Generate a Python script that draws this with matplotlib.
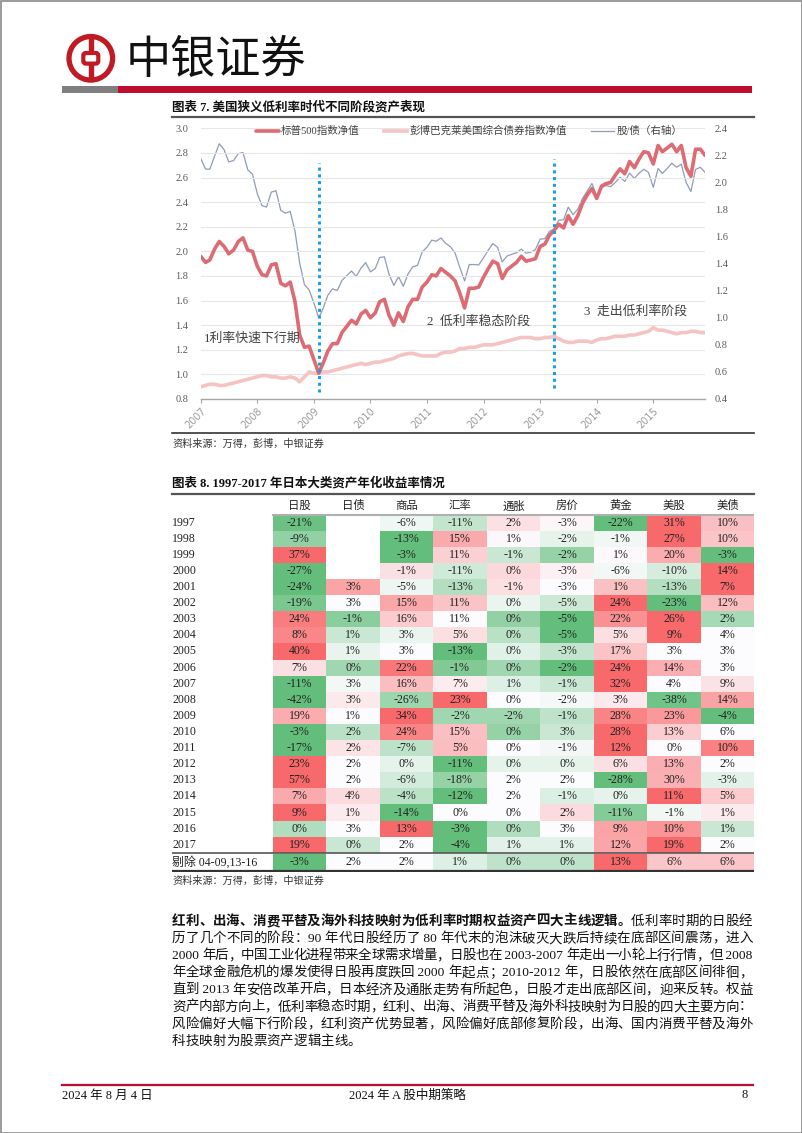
import re
import numpy as np
import pandas as pd
import matplotlib
matplotlib.use('Agg')
import matplotlib.pyplot as plt
import matplotlib.dates as mdates
from matplotlib.patches import Rectangle, Circle, FancyBboxPatch
from matplotlib.colors import LinearSegmentedColormap

MIX = ['Liberation Serif', 'Noto Sans CJK SC']
plt.rcParams['font.family'] = MIX
plt.rcParams['axes.unicode_minus'] = False

# ---------------- chart data (monthly, 2007-01 .. 2015-12) ----------------
months = pd.date_range('2007-01-01', periods=108, freq='MS')
spx_nav = [
    1.96, 1.91, 1.93, 2.02, 2.08, 2.04, 1.98, 2.01, 2.08, 2.11, 2.01, 2.00,
    1.88, 1.81, 1.80, 1.89, 1.90, 1.74, 1.72, 1.75, 1.59, 1.32, 1.22, 1.23,
    1.12, 1.01, 1.09, 1.19, 1.25, 1.25, 1.34, 1.39, 1.44, 1.41, 1.49, 1.52,
    1.46, 1.50, 1.59, 1.61, 1.48, 1.40, 1.50, 1.43, 1.55, 1.61, 1.61, 1.71,
    1.75, 1.81, 1.80, 1.86, 1.83, 1.80, 1.76, 1.66, 1.54, 1.70, 1.70, 1.71,
    1.79, 1.86, 1.92, 1.90, 1.78, 1.85, 1.88, 1.91, 1.96, 1.92, 1.93, 1.94,
    2.04, 2.06, 2.13, 2.17, 2.22, 2.19, 2.29, 2.22, 2.29, 2.39, 2.46, 2.51,
    2.43, 2.53, 2.55, 2.56, 2.62, 2.67, 2.63, 2.73, 2.68, 2.75, 2.81, 2.80,
    2.71, 2.86, 2.81, 2.84, 2.87, 2.81, 2.86, 2.68, 2.61, 2.83, 2.83, 2.78,
]
agg_nav = [
    0.90, 0.91, 0.92, 0.92, 0.91, 0.91, 0.92, 0.93, 0.94, 0.95, 0.96, 0.97,
    0.98, 0.99, 0.99, 0.98, 0.98, 0.97, 0.97, 0.98, 0.97, 0.94, 0.98, 1.02,
    1.01, 1.01, 1.02, 1.02, 1.03, 1.04, 1.05, 1.06, 1.07, 1.08, 1.09, 1.08,
    1.09, 1.10, 1.10, 1.11, 1.12, 1.13, 1.15, 1.16, 1.17, 1.17, 1.16, 1.15,
    1.15, 1.15, 1.15, 1.17, 1.18, 1.18, 1.19, 1.21, 1.21, 1.22, 1.22, 1.23,
    1.24, 1.24, 1.24, 1.25, 1.26, 1.27, 1.28, 1.29, 1.30, 1.30, 1.30, 1.29,
    1.29, 1.30, 1.30, 1.31, 1.29, 1.27, 1.26, 1.26, 1.27, 1.27, 1.27, 1.26,
    1.28, 1.29, 1.29, 1.30, 1.31, 1.31, 1.31, 1.32, 1.32, 1.33, 1.34, 1.35,
    1.38, 1.36, 1.36, 1.35, 1.34, 1.33, 1.34, 1.34, 1.35, 1.35, 1.34, 1.34,
]
series_names = ['标普500指数净值', '彭博巴克莱美国综合债券指数净值', '股/债（右轴）']
phase_breaks = ['2009-02-01', '2013-04-01']
phase_labels = ['1利率快速下行期', '2  低利率稳态阶段', '3  走出低利率阶段']

# ---------------- table data (annual returns, %) ----------------
row_names = [str(y) for y in range(1997, 2018)] + ['剔除 04-09,13-16']
assets = ['日股', '日债', '商品', '汇率', '通胀', '房价', '黄金', '美股', '美债']
nan = np.nan
annual_returns = [
    [-21, nan, -6, -11, 2, -3, -22, 31, 10],
    [-9, nan, -13, 15, 1, -2, -1, 27, 10],
    [37, nan, -3, 11, -1, -2, 1, 20, -3],
    [-27, nan, -1, -11, 0, -3, -6, -10, 14],
    [-24, 3, -5, -13, -1, -3, 1, -13, 7],
    [-19, 3, 15, 11, 0, -5, 24, -23, 12],
    [24, -1, 16, 11, 0, -5, 22, 26, 2],
    [8, 1, 3, 5, 0, -5, 5, 9, 4],
    [40, 1, 3, -13, 0, -3, 17, 3, 3],
    [7, 0, 22, -1, 0, -2, 24, 14, 3],
    [-11, 3, 16, 7, 1, -1, 32, 4, 9],
    [-42, 3, -26, 23, 0, -2, 3, -38, 14],
    [19, 1, 34, -2, -2, -1, 28, 23, -4],
    [-3, 2, 24, 15, 0, 3, 28, 13, 6],
    [-17, 2, -7, 5, 0, -1, 12, 0, 10],
    [23, 2, 0, -11, 0, 0, 6, 13, 2],
    [57, 2, -6, -18, 2, 2, -28, 30, -3],
    [7, 4, -4, -12, 2, -1, 0, 11, 5],
    [9, 1, -14, 0, 0, 2, -11, -1, 1],
    [0, 3, 13, -3, 0, 3, 9, 10, 1],
    [19, 0, 2, -4, 1, 1, 12, 19, 2],
    [-3, 2, 2, 1, 0, 0, 13, 6, 6],
]

paragraph_bold = '红利、出海、消费平替及海外科技映射为低利率时期权益资产四大主线逻辑。'
paragraph_lines = [
    '低利率时期的日股经',
    '历了几个不同的阶段：90 年代日股经历了 80 年代末的泡沫破灭大跌后持续在底部区间震荡，进入',
    '2000 年后，中国工业化进程带来全球需求增量，日股也在 2003-2007 年走出一小轮上行行情，但 2008',
    '年全球金融危机的爆发使得日股再度跌回 2000 年起点；2010-2012 年，日股依然在底部区间徘徊，',
    '直到 2013 年安倍改革开启，日本经济及通胀走势有所起色，日股才走出底部区间，迎来反转。权益',
    '资产内部方向上，低利率稳态时期，红利、出海、消费平替及海外科技映射为日股的四大主要方向：',
    '风险偏好大幅下行阶段，红利资产优势显著，风险偏好底部修复阶段，出海、国内消费平替及海外',
    '科技映射为股票资产逻辑主线。',
]

W, H = 802, 1133
RED = '#BE0D2E'
fig = plt.figure(figsize=(W / 100, H / 100), dpi=100)

# page layer in pixel coordinates
page = fig.add_axes([0, 0, 1, 1])
page.set_xlim(0, W)
page.set_ylim(H, 0)
page.axis('off')
renderer = fig.canvas.get_renderer()


def frac(x0, y0, x1, y1):
    return [x0 / W, 1 - y1 / H, (x1 - x0) / W, (y1 - y0) / H]


# header: logo, company name, bar
logo_red = '#C01A24'
page.add_patch(Circle((90.8, 58.3), 21.8, fill=False, ec=logo_red, lw=3.8))
page.add_patch(FancyBboxPatch((83.3, 53.0), 15, 10.6, boxstyle='round,pad=0,rounding_size=2.5',
                              fill=False, ec=logo_red, lw=3.0))
page.add_patch(Rectangle((88.6, 36.5), 4.4, 16.5, color=logo_red))
page.add_patch(Rectangle((88.6, 63.6), 4.4, 16.5, color=logo_red))
page.text(126, 59.5, '中银证券', fontsize=32.5, family='Noto Sans CJK SC', va='center', ha='left',
          color='#111111')
page.add_patch(Rectangle((61.5, 86), 56.5, 6.5, color='#7f7f7f', lw=0))
page.add_patch(Rectangle((118, 86), 634, 6.5, color=RED, lw=0))

# chart title
page.text(172, 107, '图表 7. 美国狭义低利率时代不同阶段资产表现', fontsize=9, fontweight='bold',
          va='center', ha='left', color='#111111')
page.plot([172, 754], [116.7, 116.7], color='#555555', lw=1.6)
page.plot([172, 754], [433.3, 433.3], color='#333333', lw=1.2)
page.text(172, 444, '资料来源：万得，彭博，中银证券', fontsize=7.3, va='center', ha='left', color='#333333')

# ---------------- line chart ----------------
ratio = np.array(spx_nav) / np.array(agg_nav)
ax = fig.add_axes(frac(200.7, 128.3, 705, 399))
ax2 = ax.twinx()
ax.set_zorder(ax2.get_zorder() + 1)
ax.patch.set_visible(False)

l1, = ax.plot(months, spx_nav, color='#DD6B74', lw=2.6, zorder=4, solid_capstyle='round')
l2, = ax.plot(months, agg_nav, color='#F5C3C1', lw=2.6, zorder=3)
l3, = ax2.plot(months, ratio, color='#8E9CB8', lw=0.9)

for d, lo, hi in zip(phase_breaks, [0.86, 0.89], [2.72, 2.75]):
    ax.plot([pd.Timestamp(d)] * 2, [lo, hi], color='#1BA1E2', lw=2.2, ls=(0, (1, 1.2)), zorder=5)

label_pos = [('2007-01-20', 1.29), ('2011-01-01', 1.43), ('2013-10-10', 1.51)]
for (d, y), s in zip(label_pos, phase_labels):
    ax.text(pd.Timestamp(d), y, s, fontsize=9.3, va='center', ha='left', color='#404040', zorder=6)

ax.set_xlim(months[0], months[-1])
ax.set_ylim(0.8, 3.0)
ax.set_yticks(np.arange(0.8, 3.01, 0.2))
ax.yaxis.set_major_formatter(matplotlib.ticker.FormatStrFormatter('%.1f'))
ax2.set_ylim(0.4, 2.4)
ax2.set_yticks(np.arange(0.4, 2.41, 0.2))
ax2.yaxis.set_major_formatter(matplotlib.ticker.FormatStrFormatter('%.1f'))
ax.xaxis.set_major_locator(mdates.YearLocator())
ax.xaxis.set_major_formatter(mdates.DateFormatter('%Y'))

ax2.grid(False)
ax.yaxis.grid(True, color='#e6e6e6', lw=0.8)
ax.xaxis.grid(False)
ax.set_axisbelow(True)
for s in ['top', 'left', 'right']:
    ax.spines[s].set_visible(False)
    ax2.spines[s].set_visible(False)
ax2.spines['bottom'].set_visible(False)
ax.spines['bottom'].set_color('#a6a6a6')
ax.spines['bottom'].set_linewidth(1.0)
ax.tick_params(axis='y', length=0, pad=9, labelsize=7.5, labelcolor='#595959')
ax2.tick_params(axis='y', length=0, pad=7, labelsize=7.5, labelcolor='#595959')
ax.tick_params(axis='x', length=3, width=0.8, color='#a6a6a6', labelsize=7, labelcolor='#9a9a9a', pad=2)
for lb in ax.get_xticklabels():
    lb.set_rotation(45)
    lb.set_ha('right')
    lb.set_rotation_mode('anchor')
    lb.set_family('DejaVu Sans')

ax.legend([l1, l2, l3], series_names, loc='center', bbox_to_anchor=(0.532, 0.99), ncol=3,
          frameon=False, fontsize=7.6, handlelength=2.2, handletextpad=0.2, columnspacing=2.3,
          labelcolor='#404040', borderaxespad=0)

# ---------------- table ----------------
page.text(172, 483.3, '图表 8. 1997-2017 年日本大类资产年化收益率情况', fontsize=9, fontweight='bold',
          va='center', ha='left', color='#111111')
page.plot([172, 754.3], [494, 494], color='#555555', lw=1.6)

row_h, row0 = 16.1, 522.7
tab = fig.add_axes(frac(172, row0 - 1.8 * row_h, 754.3, row0 + 21.7 * row_h))
x_lab = -100.7 / 53.5
tab.set_xlim(x_lab, 9)
tab.set_ylim(21.7, -1.8)
tab.axis('off')
tab.patch.set_visible(False)

cmap = LinearSegmentedColormap.from_list('gwr', ['#63BE7B', '#FCFCFF', '#F8696B'])


def row_scale(vals):
    v = np.array(vals, dtype=float)
    lo, mid, hi = np.nanmin(v), np.nanmedian(v), np.nanmax(v)
    t = np.full(v.shape, 0.5)
    up = v > mid
    dn = v < mid
    if hi > mid:
        t[up] = 0.5 + 0.5 * (v[up] - mid) / (hi - mid)
    if mid > lo:
        t[dn] = 0.5 - 0.5 * (mid - v[dn]) / (mid - lo)
    return t


for j, a in enumerate(assets):
    tab.text(j + 0.5, -1.05, a, ha='center', va='center', fontsize=8.2, color='#222222')

for i, (name, vals) in enumerate(zip(row_names, annual_returns)):
    yy = i + (0.1 if i == len(row_names) - 1 else 0)
    tab.text(x_lab, yy, name, ha='left', va='center', fontsize=8.6, color='#222222')
    shades = row_scale(vals)
    for j, v in enumerate(vals):
        if np.isnan(v):
            continue
        tab.add_patch(Rectangle((j, yy - 0.5), 1, 1, color=cmap(shades[j]), lw=0))
        tab.text(j + 0.5, yy, f'{int(v)}%', ha='center', va='center', fontsize=8.6, color='#222222')

tab.plot([0, 9], [-0.5, -0.5], color='#b0b0b0', lw=1.5)
tab.plot([x_lab, 9], [20.5, 20.5], color='#555555', lw=1.2)
tab.plot([x_lab, 9], [21.65, 21.65], color='#333333', lw=1.6)
page.text(172, 881, '资料来源：万得，彭博，中银证券', fontsize=7.3, va='center', ha='left', color='#333333')

# ---------------- paragraph (justified) ----------------
PFS = 9.7


def width_of(s, weight):
    t = page.text(0, 0, '|' + s + '|', fontsize=PFS, fontweight=weight)
    w = t.get_window_extent(renderer).width
    t.remove()
    t = page.text(0, 0, '||', fontsize=PFS, fontweight=weight)
    w -= t.get_window_extent(renderer).width
    t.remove()
    return w


def draw_line(segments, y, x0=172.0, x1=752.5, justify=True):
    toks = []
    for s, weight in segments:
        for tk in re.findall(r' ?[A-Za-z0-9\-\.,]+ ?|.', s):
            toks.append((tk, weight, width_of(tk, weight)))
    total = sum(w for _, _, w in toks)
    gap = (x1 - x0 - total) / (len(toks) - 1) if justify and len(toks) > 1 else 0.0
    x = x0
    for tk, weight, w in toks:
        page.text(x, y, tk, fontsize=PFS, fontweight=weight, va='center', ha='left', color='#111111')
        x += w + gap


line_y0, line_dy = 921.7, 17.15
draw_line([(paragraph_bold, 'bold'), (paragraph_lines[0], 'normal')], line_y0)
for k, s in enumerate(paragraph_lines[1:], start=1):
    draw_line([(s, 'normal')], line_y0 + k * line_dy, justify=(k < len(paragraph_lines) - 1))

# ---------------- footer ----------------
page.plot([61.5, 752.5], [1084.5, 1084.5], color=RED, lw=1.6)
page.text(61.5, 1095.5, '2024 年 8 月 4 日', fontsize=9, va='center', ha='left', color='#111111')
page.text(407, 1095.5, '2024 年 A 股中期策略', fontsize=9, va='center', ha='center', color='#111111')
page.text(748, 1095.5, '8', fontsize=9, va='center', ha='right', color='#111111')

page.add_patch(Rectangle((0.5, 0.5), W - 1, H - 1, fill=False, ec='#8a8a8a', lw=1.2))

fig.savefig('out.png', dpi=100)
